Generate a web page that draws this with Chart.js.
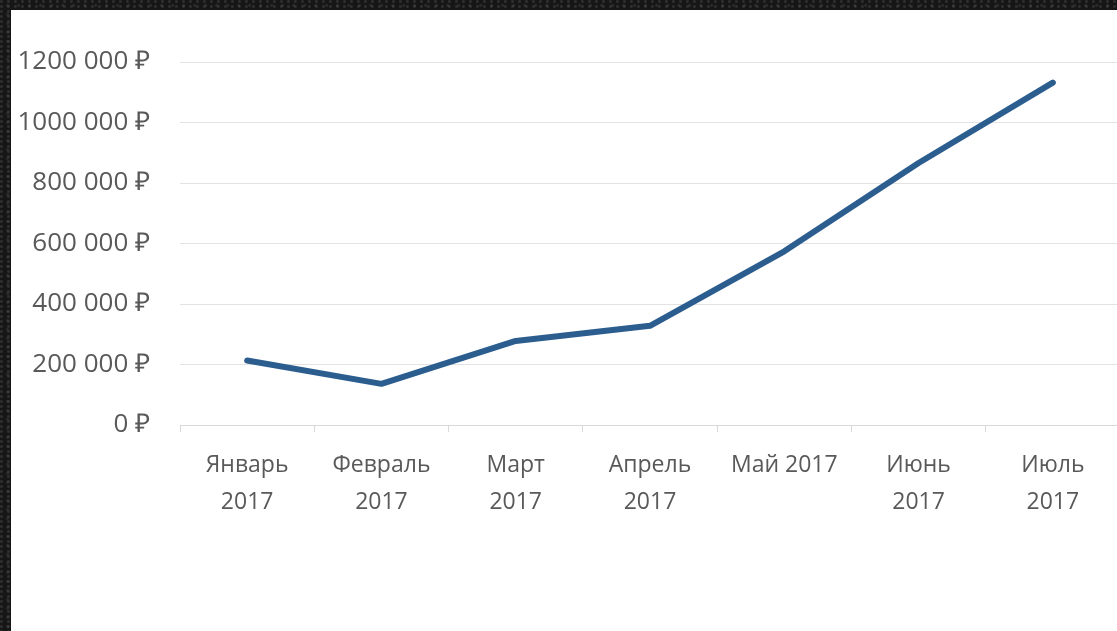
<!DOCTYPE html>
<html>
<head>
<meta charset="utf-8">
<script src="https://cdn.jsdelivr.net/npm/chart.js@4"></script>
<style>
  html, body { margin: 0; padding: 0; overflow: hidden; }
  body {
    width: 1117px; height: 631px;
    background: #161616;
    background-image:
      radial-gradient(circle at 20% 30%, rgba(120,120,120,0.25) 0 1px, transparent 2px),
      radial-gradient(circle at 70% 60%, rgba(90,90,90,0.3) 0 1px, transparent 2px);
    background-size: 7px 5px, 11px 9px;
    position: relative;
  }
  #wrap {
    position: absolute; left: 11px; top: 10px;
    width: 1130px; height: 621px;
    background: #fff;
  }
</style>
</head>
<body>
<div id="wrap"><canvas id="salesChart" width="1130" height="621"></canvas></div>
<script>
const months = [
    ['Январь', '2017'],
    ['Февраль', '2017'],
    ['Март', '2017'],
    ['Апрель', '2017'],
    'Май 2017',
    ['Июнь', '2017'],
    ['Июль', '2017']]
const revenue = [213000, 136000, 278000, 328000, 574000, 866000, 1132000]
const yTicks = [0, 200000, 400000, 600000, 800000, 1000000, 1200000]

const rub = (v) => {
    if (v < 1000) return v + ' ₽'
    return Math.floor(v / 1000) + ' ' + String(v % 1000).padStart(3, '0') + ' ₽'
}

const ctx = document.getElementById('salesChart').getContext('2d');
const salesChart = new Chart(ctx, {
    type: 'line',
    data: {
        labels: months,
        datasets: [{
            label: 'Выручка',
            data: revenue,
            borderColor: '#2c5d8f',
            borderWidth: 6,
            borderCapStyle: 'round',
            borderJoinStyle: 'round',
            pointRadius: 0,
            tension: 0
        }]
    },
    options: {
        responsive: false,
        animation: false,
        devicePixelRatio: 1,
        layout: {padding: {left: 2, top: 52, right: 21, bottom: 95}},
        plugins: {
            legend: {display: false},
            tooltip: {enabled: false}
        },
        scales: {
            x: {
                offset: true,
                grid: {drawOnChartArea: false, drawTicks: true, tickLength: 7, color: '#d9d9d9', offset: true},
                border: {color: '#d9d9d9', width: 1},
                ticks: {
                    color: '#595959', padding: 15, maxRotation: 0, autoSkip: false,
                    font: {family: 'Open Sans', size: 23, lineHeight: '37px'}
                }
            },
            y: {
                min: 0,
                max: 1200000,
                afterBuildTicks: (axis) => { axis.ticks = yTicks.map(v => ({value: v})) },
                afterFit: (axis) => { axis.width = 167 },
                grid: {color: '#e3e3e3', drawTicks: false},
                border: {display: false},
                ticks: {
                    color: '#595959', padding: 30,
                    font: {family: 'Open Sans', size: 26},
                    callback: (v) => rub(v)
                }
            }
        }
    }
});
</script>
</body>
</html>
